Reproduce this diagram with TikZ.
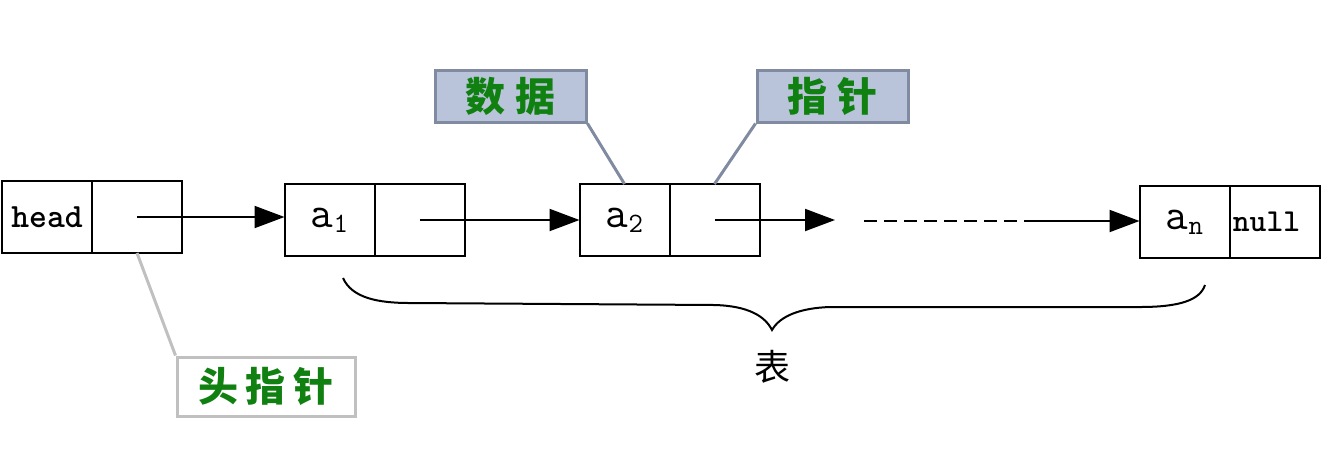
\documentclass[tikz,border=0pt]{standalone}
\usepackage{fontspec}
\newfontfamily\cjkfont{Noto Sans CJK SC}
\usetikzlibrary{arrows.meta,positioning}

\definecolor{tagfill}{RGB}{185,196,219}
\definecolor{tagline}{RGB}{128,138,160}
\definecolor{taggreen}{RGB}{16,128,16}
\definecolor{headline}{RGB}{192,192,192}

\newcommand{\subidx}[1]{\raisebox{-2.5pt}{\fontsize{14}{14}\selectfont #1}}

\tikzset{
  cell/.style={draw, line width=1pt, minimum width=45pt, minimum height=36pt,
    inner sep=0pt, outer sep=0pt, font=\ttfamily\fontsize{22}{22}\selectfont},
  word/.style={font=\ttfamily\bfseries\fontsize{17}{17}\selectfont},
  ptr/.style={line width=1pt, -{Triangle[length=15pt,width=11pt]}},
  tag/.style={draw=tagline, fill=tagfill, line width=1.5pt, minimum width=75.5pt,
    minimum height=26pt, inner sep=0pt, text=taggreen,
    font=\cjkfont\bfseries\fontsize{20}{20}\selectfont},
  headtag/.style={tag, draw=headline, fill=white, minimum width=89pt, minimum height=29.5pt},
}

\begin{document}
\begin{tikzpicture}[x=0.5pt,y=-0.5pt]

    \useasboundingbox (0,0) rectangle (1322,452);

    % head node
    \node[cell, word] (d0) at (47,217) {\raisebox{-3pt}{head}};
    \node[cell, right=0pt of d0] (p0) {};

    % list elements
    \node[cell] (d1) at (329.5,220) {\raisebox{-6pt}{a\subidx{1}}};
    \node[cell, right=0pt of d1] (p1) {};

    \node[cell] (d2) at (624.5,220) {\raisebox{-6pt}{a\subidx{2}}};
    \node[cell, right=0pt of d2] (p2) {};

    \node[cell] (dn) at (1184.5,222) {\raisebox{-6pt}{a\subidx{n}}};
    \node[cell, right=0pt of dn, word, font=\ttfamily\bfseries\fontsize{16}{16}\selectfont] (pn) {\raisebox{-3pt}{null\hspace{8pt}}};

    % pointers
    \coordinate (gapa) at (835,220);
    \coordinate (gapb) at (864,221);
    \coordinate (gapc) at (1026,221);
    \draw[ptr] (p0.center) -- (p0.center -| d1.west);
    \draw[ptr] (p1.center) -- (d2.west);
    \draw[ptr] (p2.center) -- (gapa);
    \draw[line width=1pt, dash pattern=on 6.5pt off 3.5pt] (gapb) -- (gapc);
    \draw[ptr] (gapc) -- (gapc -| dn.west);

    % labels
    \node[tag] (tagdata) at (510.5,96) {数\hspace{0.25em}据};
    \node[tag] (tagptr) at (832.5,96) {指\hspace{0.25em}针};
    \node[headtag] (taghead) at (266,386.5) {头\hspace{0.2em}指\hspace{0.2em}针};
    \draw[tagline, line width=1.5pt] (tagdata.south east) -- (d2.north);
    \draw[tagline, line width=1.5pt] (tagptr.south west) -- (p2.north);
    \draw[headline, line width=1.5pt] (p0.south) -- (taghead.north west);

    % brace
    \draw[line width=1pt] (343,278) .. controls (352,298) and (378,303) .. (410,303)
        -- (715,305) .. controls (748,306) and (765,316) .. (772,330)
        .. controls (780,316) and (800,308) .. (830,307)
        -- (1140,307) .. controls (1180,307) and (1200,300) .. (1205,285);
    \node[font=\cjkfont\fontsize{18}{18}\selectfont] (table) at (772,367) {表};

\end{tikzpicture}
\end{document}
